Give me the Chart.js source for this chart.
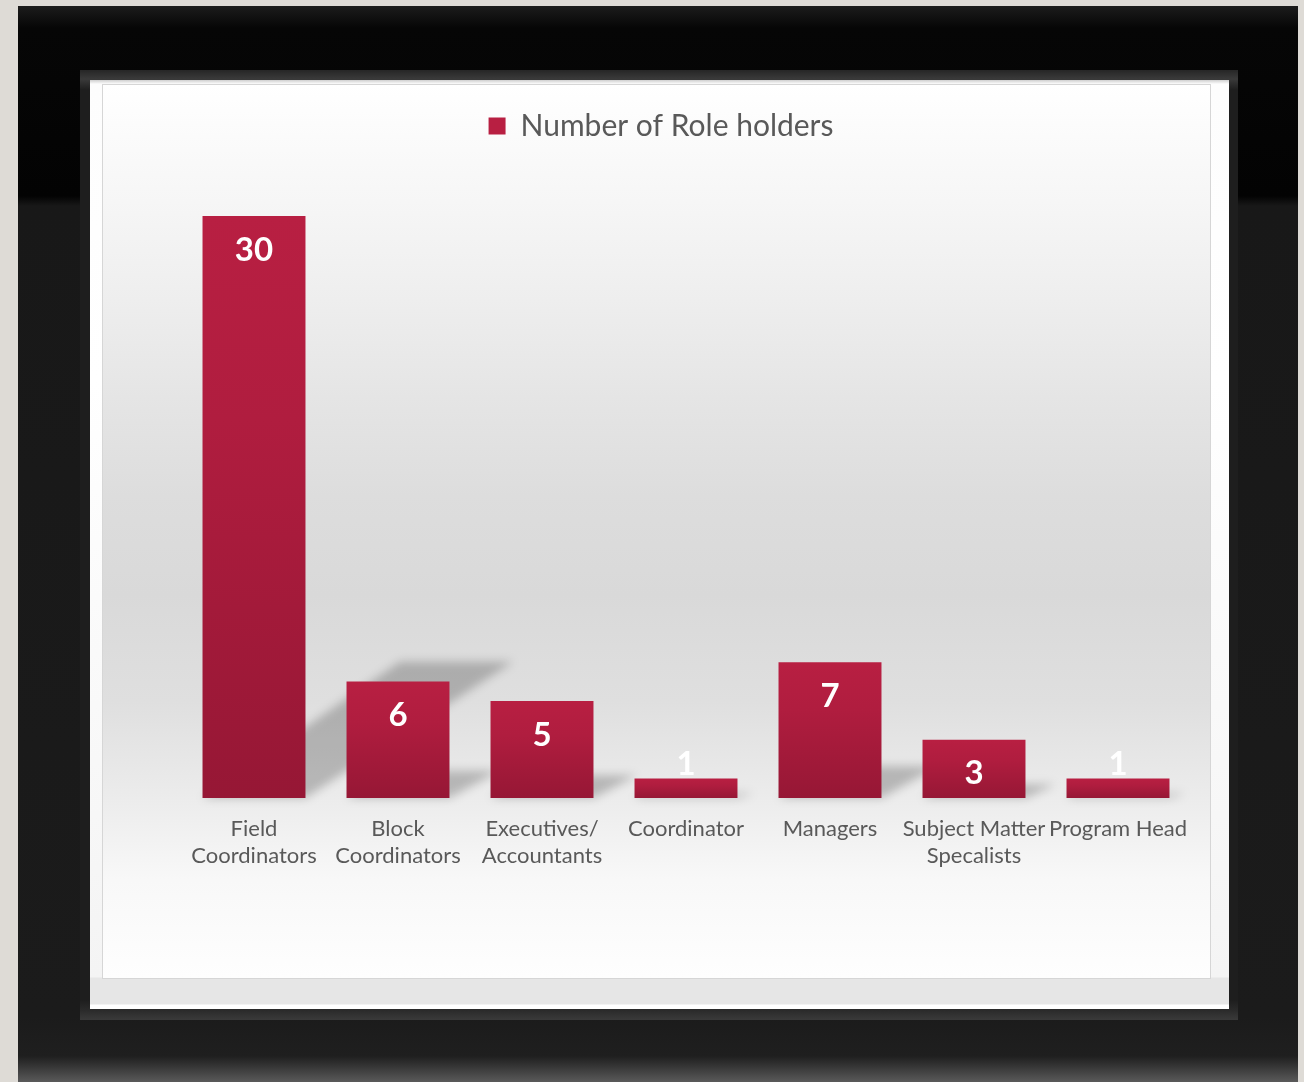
<!DOCTYPE html>
<html>
<head>
<meta charset="utf-8">
<script src="https://cdn.jsdelivr.net/npm/chart.js@4.4.0/dist/chart.umd.min.js"></script>
<style>
  html, body { margin: 0; padding: 0; }
  body { width: 1304px; height: 1082px; background: #dedbd6; position: relative; overflow: hidden; }
  .frame { position: absolute; left: 18px; top: 6px; width: 1280px; height: 1090px;
    background: linear-gradient(to bottom, #1c1c1c 0px, #060606 22px, #030303 190px, #181818 200px, #1b1b1b 1010px, #1f1f1f 1050px, #303030 1058px, #5a5a5a 1076px); }
  .bevel { position: absolute; left: 80px; top: 70px; width: 1158px; height: 950px;
    background: linear-gradient(to bottom, #262626 0px, #3a3a3a 9px, #1e1e1e 20px, #1e1e1e 930px, #2a2a2a 940px, #3a3a3a 950px); }
  .mat { position: absolute; left: 90px; top: 80px; width: 1139px; height: 929px;
    background: linear-gradient(to bottom, #cfcfcf 0px, #fdfdfd 4px, #ffffff 300px, #f4f4f4 897px, #e6e6e6 898px, #e6e6e6 924px, #ffffff 925px); }
  #wrap { position: absolute; left: 103px; top: 85px; width: 1107px; height: 893px;
    outline: 1px solid #d6d6d6;
    background: linear-gradient(to bottom, #ffffff 0%, #f6f6f6 13%, #eeeeee 24%, #e5e5e5 35%, #dddddd 46%, #d9d9d9 57%, #dfdfdf 69%, #ececec 80%, #f8f8f8 89%, #fefefe 100%); }
</style>
</head>
<body>
<div class="frame"></div>
<div class="bevel"></div>
<div class="mat"></div>
<div id="wrap"><canvas id="myChart" width="1107" height="893"></canvas></div>
<script>
const categories = [['Field', 'Coordinators'], ['Block', 'Coordinators'], ['Executives/', 'Accountants'], 'Coordinator', 'Managers', ['Subject Matter', 'Specalists'], 'Program Head']
const roleHolders = [30, 6, 5, 1, 7, 3, 1]
const seriesName = 'Number of Role holders'
const yMax = 33.35

const barFill = (c) => {
  const chart = c.chart
  const y = chart.scales.y
  if (!y || c.type !== 'data') return '#ab1c3c'
  const top = y.getPixelForValue(c.raw)
  const base = y.getPixelForValue(0)
  if (!isFinite(top) || !isFinite(base) || top === base) return '#ab1c3c'
  const g = chart.ctx.createLinearGradient(0, top, 0, base)
  g.addColorStop(0, '#b81f42')
  g.addColorStop(0.35, '#b01d3f')
  g.addColorStop(1, '#961735')
  return g
}

// perspective shadows behind the bars
const barShadows = {
  id: 'barShadows',
  beforeDatasetsDraw(chart) {
    const ctx = chart.ctx
    const bars = chart.getDatasetMeta(0).data
    ctx.save()
    ctx.filter = 'blur(5px)'
    ctx.fillStyle = 'rgba(0,0,0,0.22)'
    bars.forEach((bar) => {
      const h = bar.base - bar.y
      const sh = h * 0.234
      const dx = sh * 1.45
      const l = bar.x - bar.width / 2
      const r = bar.x + bar.width / 2
      ctx.beginPath()
      ctx.moveTo(l, bar.base)
      ctx.lineTo(r, bar.base)
      ctx.lineTo(r + dx + 10, bar.base - sh)
      ctx.lineTo(l + dx, bar.base - sh)
      ctx.closePath()
      ctx.fill()
    })
    ctx.restore()
  }
}

const valueLabels = {
  id: 'valueLabels',
  afterDatasetsDraw(chart) {
    const ctx = chart.ctx
    const bars = chart.getDatasetMeta(0).data
    ctx.save()
    ctx.font = 'bold 33px Lato'
    ctx.fillStyle = '#ffffff'
    ctx.textAlign = 'center'
    ctx.textBaseline = 'middle'
    bars.forEach((bar, i) => {
      const h = bar.base - bar.y
      const y = h > 50 ? bar.y + 34 : bar.y - 14
      ctx.fillText(String(roleHolders[i]), bar.x, y)
    })
    ctx.restore()
  }
}

const config = {
  type: 'bar',
  data: {
    labels: categories,
    datasets: [{
      label: seriesName,
      data: roleHolders,
      backgroundColor: barFill,
      borderWidth: 0,
      barPercentage: 0.715,
      categoryPercentage: 1
    }]
  },
  options: {
    responsive: false,
    devicePixelRatio: 1,
    animation: false,
    layout: { padding: { top: 16, left: 29, right: 20, bottom: 0 } },
    plugins: {
      legend: {
        labels: {
          font: { family: 'Lato', size: 30 },
          color: '#595959',
          boxWidth: 17,
          boxHeight: 17,
          padding: 10
        }
      },
      tooltip: { enabled: false }
    },
    scales: {
      x: {
        grid: { display: false, drawTicks: false },
        border: { display: false },
        ticks: {
          font: { family: 'Lato', size: 22, lineHeight: 1.25 },
          color: '#595959',
          padding: 17,
          maxRotation: 0,
          autoSkip: false
        },
        afterFit: (scale) => { scale.height = 180 }
      },
      y: {
        min: 0,
        max: yMax,
        grid: { display: false, drawTicks: false },
        border: { display: false },
        ticks: { display: false },
        afterFit: (scale) => { scale.width = 50 }
      }
    }
  },
  plugins: [barShadows, valueLabels]
}

const myChart = new Chart(document.getElementById('myChart'), config)
</script>
</body>
</html>
